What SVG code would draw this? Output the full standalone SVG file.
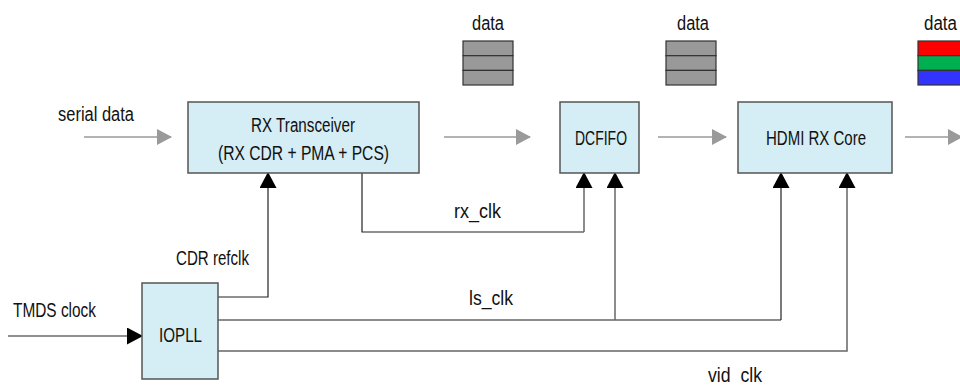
<svg xmlns="http://www.w3.org/2000/svg" width="960" height="385" viewBox="0 0 960 385">
<style>
.box{fill:#d5edf4;stroke:#555;stroke-width:1.5}
.t{font-family:"Liberation Sans",Arial,sans-serif;font-size:20px;fill:#111}
.m{text-anchor:middle}
.dl{stroke:#9a9a9a;stroke-width:1.5;fill:none}
.cl{stroke:#666;stroke-width:1.5;fill:none}
.bl{stroke:#222;stroke-width:1.2;fill:none}
.gh{fill:#9a9a9a}
.bh{fill:#000}
.stk{stroke:#333;stroke-width:1.2}
</style>
<defs>
<marker id="ga" markerWidth="15" markerHeight="16" refX="14" refY="8" orient="auto" markerUnits="userSpaceOnUse"><path d="M0,0 L15,8 L0,16 Z" class="gh"/></marker>
<marker id="ba" markerWidth="17" markerHeight="17" refX="15" refY="8.5" orient="auto" markerUnits="userSpaceOnUse"><path d="M0,0 L16,8.5 L0,17 Z" class="bh"/></marker>
</defs>
<g id="connectors">
<line class="dl" x1="84" y1="137" x2="171" y2="137" marker-end="url(#ga)"/>
<line class="dl" x1="444" y1="137" x2="530" y2="137" marker-end="url(#ga)"/>
<line class="dl" x1="658" y1="137" x2="726" y2="137" marker-end="url(#ga)"/>
<line class="dl" x1="905" y1="137" x2="962" y2="137" marker-end="url(#ga)"/>
<line class="bl" x1="8" y1="336" x2="142" y2="336" marker-end="url(#ba)"/>
<polyline class="bl" points="218,297 268,297 268,173" marker-end="url(#ba)"/>
<polyline class="bl" points="362,173 362,232 584,232"/>
<polyline class="cl" points="584,232 584,173" marker-end="url(#ba)"/>
<polyline class="cl" points="218,320 781,320"/>
<polyline class="bl" points="781,320 781,173" marker-end="url(#ba)"/>
<polyline class="cl" points="615,320 615,173" marker-end="url(#ba)"/>
<polyline class="cl" points="218,351 847,351 847,173" marker-end="url(#ba)"/>
</g>
<g id="rx">
<rect class="box" x="188" y="102" width="231" height="71"/>
<text class="t" x="251" y="132" textLength="104" lengthAdjust="spacingAndGlyphs">RX Transceiver</text>
<text class="t" x="218" y="160" textLength="171" lengthAdjust="spacingAndGlyphs">(RX CDR + PMA + PCS)</text>
</g>
<g id="dcfifo">
<rect class="box" x="560" y="102" width="79" height="71"/>
<text class="t" x="575" y="145" textLength="52" lengthAdjust="spacingAndGlyphs">DCFIFO</text>
</g>
<g id="hdmi">
<rect class="box" x="738" y="102" width="154" height="71"/>
<text class="t" x="766" y="145" textLength="100" lengthAdjust="spacingAndGlyphs">HDMI RX Core</text>
</g>
<g id="iopll">
<rect class="box" x="142" y="283" width="76" height="96"/>
<text class="t" x="159" y="342" textLength="43" lengthAdjust="spacingAndGlyphs">IOPLL</text>
</g>
<g id="data1">
<rect x="463" y="41" width="50" height="14.7" fill="#999" class="stk"/>
<rect x="463" y="55.7" width="50" height="14.7" fill="#999" class="stk"/>
<rect x="463" y="70.4" width="50" height="14.6" fill="#999" class="stk"/>
<text class="t" x="472" y="30" textLength="32" lengthAdjust="spacingAndGlyphs">data</text>
</g>
<g id="data2">
<rect x="666" y="41" width="50" height="14.7" fill="#999" class="stk"/>
<rect x="666" y="55.7" width="50" height="14.7" fill="#999" class="stk"/>
<rect x="666" y="70.4" width="50" height="14.6" fill="#999" class="stk"/>
<text class="t" x="677" y="30" textLength="32" lengthAdjust="spacingAndGlyphs">data</text>
</g>
<g id="data3">
<rect x="918" y="41" width="50" height="14.7" fill="#f00" class="stk"/>
<rect x="918" y="55.7" width="50" height="14.7" fill="#00b050" class="stk"/>
<rect x="918" y="70.4" width="50" height="14.6" fill="#3333ff" class="stk"/>
<text class="t" x="924" y="30" textLength="33" lengthAdjust="spacingAndGlyphs">data</text>
</g>
<g id="labels">
<text class="t" x="58" y="121" textLength="76" lengthAdjust="spacingAndGlyphs">serial data</text>
<text class="t" x="454" y="218" textLength="47" lengthAdjust="spacingAndGlyphs">rx_clk</text>
<text class="t" x="176" y="265" textLength="73" lengthAdjust="spacingAndGlyphs">CDR refclk</text>
<text class="t" x="469" y="305" textLength="44" lengthAdjust="spacingAndGlyphs">ls_clk</text>
<text class="t" x="13" y="317" textLength="83" lengthAdjust="spacingAndGlyphs">TMDS clock</text>
<text class="t" x="708" y="382" textLength="54" lengthAdjust="spacingAndGlyphs">vid_clk</text>
</g>
</svg>
